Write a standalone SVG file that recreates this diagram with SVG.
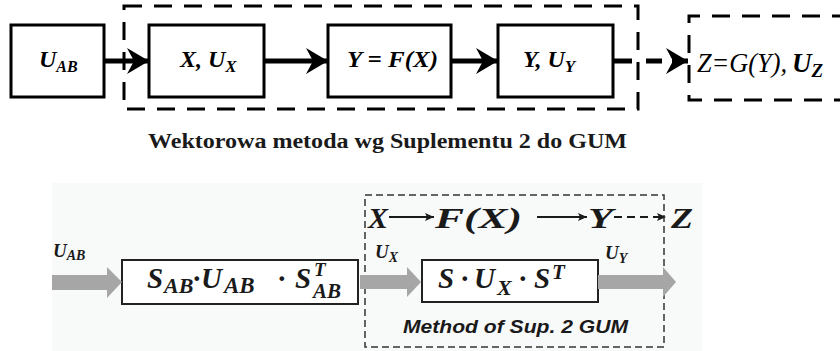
<svg xmlns="http://www.w3.org/2000/svg" width="840" height="351" viewBox="0 0 840 351">
<defs>
<style>
.box{fill:#fff;stroke:#000;stroke-width:3}
.math{font-family:"Liberation Serif","Times New Roman","DejaVu Serif",serif;font-weight:bold;font-style:italic;fill:#000}
.dash{fill:none;stroke:#000;stroke-width:3;stroke-dasharray:18 12}
.conn{stroke:#000;stroke-width:5;fill:none}
.gbox{fill:#fff;stroke:#222;stroke-width:2}
.garrow{fill:#a6a6a6}
.thin{stroke:#1a1a1a;stroke-width:2;fill:none}
.bm{font-family:"Liberation Serif","Times New Roman","DejaVu Serif",serif;font-weight:bold;font-style:italic;fill:#1a1a1a}
.serif{font-family:"Liberation Serif","Times New Roman","DejaVu Serif",serif}
</style>
<marker id="barb" markerUnits="userSpaceOnUse" markerWidth="26" markerHeight="28" refX="24" refY="14" orient="auto">
<path d="M24,14 L2,1 L9,14 L2,27 Z" fill="#000"/>
</marker>
<marker id="small" markerUnits="userSpaceOnUse" markerWidth="10" markerHeight="10" refX="9" refY="5" orient="auto">
<path d="M9,5 L0,1 L2,5 L0,9 Z" fill="#1a1a1a"/>
</marker>
</defs>

<!-- top diagram -->
<g id="region-vector">
<rect class="dash" x="124" y="6" width="514" height="103"/>
</g>
<g id="n-uab">
<rect class="box" x="11" y="25" width="93" height="72"/>
<text class="math" x="39" y="67" font-size="24">U<tspan font-size="16" dy="5">AB</tspan></text>
</g>
<g id="n-x">
<rect class="box" x="149" y="25" width="115" height="72"/>
<text class="math" x="180" y="67" font-size="24">X, U<tspan font-size="17" dy="5">X</tspan></text>
</g>
<g id="n-f">
<rect class="box" x="328" y="25" width="123" height="72"/>
<text class="math" x="347" y="67" font-size="24" textLength="91" lengthAdjust="spacingAndGlyphs">Y = F(X)</text>
</g>
<g id="n-y">
<rect class="box" x="498" y="25" width="115" height="72"/>
<text class="math" x="523" y="67" font-size="24">Y, U<tspan font-size="17" dy="5">Y</tspan></text>
</g>
<g id="n-z">
<path class="dash" d="M850,16 H689 V100 H850" stroke-width="3.5"/>
<text class="serif" x="697" y="72" font-style="italic" font-size="27" fill="#000"><tspan textLength="90" lengthAdjust="spacingAndGlyphs">Z=G(Y),</tspan><tspan x="792" font-weight="bold">U</tspan><tspan font-weight="bold" font-size="19" dy="5">Z</tspan></text>
</g>
<g id="connectors-top">
<line class="conn" x1="104" y1="61" x2="149" y2="61" marker-end="url(#barb)"/>
<line class="conn" x1="264" y1="61" x2="328" y2="61" marker-end="url(#barb)"/>
<line class="conn" x1="451" y1="61" x2="498" y2="61" marker-end="url(#barb)"/>
<line class="conn" x1="613" y1="61" x2="632" y2="61"/>
<line class="conn" x1="646" y1="61" x2="688" y2="61" stroke-dasharray="16 10" marker-end="url(#barb)"/>
</g>

<g id="caption">
<text class="serif" x="148" y="148" font-weight="bold" font-size="20" fill="#1a1a1a" textLength="479" lengthAdjust="spacingAndGlyphs">Wektorowa metoda wg Suplementu 2 do GUM</text>
</g>

<!-- bottom diagram -->
<rect x="52" y="183" width="650" height="168" fill="#f8f9f9"/>
<g id="region-sup2">
<rect x="365" y="195" width="299" height="152" fill="none" stroke="#333" stroke-width="1.5" stroke-dasharray="7 4"/>
<text x="403" y="333" font-family="'Liberation Sans',Arial,sans-serif" font-weight="bold" font-style="italic" font-size="19" fill="#1a1a1a" textLength="225" lengthAdjust="spacingAndGlyphs">Method of Sup. 2 GUM</text>
</g>
<g id="chain-labels">
<text class="bm" x="368" y="228" font-size="30" textLength="20" lengthAdjust="spacingAndGlyphs">X</text>
<text class="bm" x="435" y="228" font-size="30" textLength="87" lengthAdjust="spacingAndGlyphs">F(X)</text>
<text class="bm" x="588" y="228" font-size="30" textLength="25" lengthAdjust="spacingAndGlyphs">Y</text>
<text class="bm" x="671" y="228" font-size="30" textLength="22" lengthAdjust="spacingAndGlyphs">Z</text>
</g>
<g id="box-sab">
<rect class="gbox" x="122" y="260" width="236" height="44"/>
<text class="bm" font-size="29"><tspan x="147" y="288">S</tspan><tspan x="164" y="293" font-size="22">AB</tspan><tspan x="193" y="288">·</tspan><tspan x="201" y="288">U</tspan><tspan x="224" y="293" font-size="23">AB</tspan><tspan x="278" y="288">·</tspan><tspan x="295" y="288">S</tspan></text>
<text class="bm" x="314" y="276" font-size="19">T</text>
<text class="bm" x="313" y="298" font-size="21">AB</text>
</g>
<g id="box-s">
<rect class="gbox" x="422" y="260" width="176" height="42"/>
<text class="bm" font-size="29"><tspan x="438" y="288">S</tspan><tspan x="461" y="288">·</tspan><tspan x="474" y="288">U</tspan><tspan x="497" y="295" font-size="22">X</tspan><tspan x="519" y="288">·</tspan><tspan x="534" y="288">S</tspan><tspan x="552" y="279" font-size="21">T</tspan></text>
</g>
<g id="flow-labels">
<text class="bm" x="53" y="257" font-size="19">U<tspan font-size="14" dy="3">AB</tspan></text>
<text class="bm" x="375" y="258" font-size="19">U<tspan font-size="14" dy="4">X</tspan></text>
<text class="bm" x="605" y="259" font-size="19">U<tspan font-size="14" dy="4">Y</tspan></text>
</g>
<g id="connectors-bottom">
<polygon class="garrow" points="52,275 107,275 107,267 122,282 107,298 107,290 52,290"/>
<polygon class="garrow" points="360,275 407,275 407,267 421,282 407,297 407,289 360,289"/>
<polygon class="garrow" points="598,275 663,275 663,267 676,282 663,297 663,289 598,289"/>
<line class="thin" x1="389" y1="217" x2="434" y2="217" marker-end="url(#small)"/>
<line class="thin" x1="537" y1="217" x2="587" y2="217" marker-end="url(#small)"/>
<line class="thin" x1="614" y1="217" x2="666" y2="217" stroke-dasharray="8 5" marker-end="url(#small)"/>
</g>
</svg>
